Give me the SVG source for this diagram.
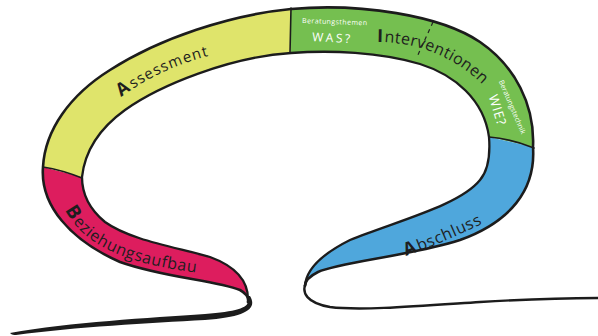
<svg xmlns="http://www.w3.org/2000/svg" width="598" height="336" viewBox="0 0 598 336">
<style>
.edge{fill:none;stroke:#1c1c1c;stroke-linejoin:round;stroke-linecap:round}
.lbl{font-family:"Open Sans","Liberation Sans",sans-serif;fill:#1e1e1e}
.big{font-weight:bold}
.wh{font-family:"Open Sans","Liberation Sans",sans-serif;fill:#ffffff}
</style>
<defs>
<path id="pA" d="M121,97 Q160,68 212,55"/>
<path id="pI" d="M377,42 C410,42 450,52 484,86"/>
<path id="pB" d="M65,210 C82,242 120,264 201,273"/>
<path id="pS" d="M406,256 Q440,244 484,223"/>
</defs>
<rect width="598" height="336" fill="#ffffff"/>
<g id="beziehungsaufbau">
<path d="M43,167 C40,205 70,240 120,262 C165,278 215,280 240,290 C247,294 249,298 248,302 C249,285 240,268 210,257 C175,247 130,240 105,222 C88,208 82,192 82,177 Z" fill="#dd1d5e"/>
<text class="lbl" font-size="16" letter-spacing="0.6"><textPath href="#pB"><tspan class="big" font-size="19">B</tspan><tspan dx="1">eziehungsaufbau</tspan></textPath></text>
</g>
<g id="assessment">
<path d="M43,167 C45,130 70,95 110,70 C160,38 230,15 291,9 L291,53 C230,57 160,85 125,110 C100,128 85,150 82,177 Z" fill="#dfe46b"/>
<text class="lbl" font-size="15" letter-spacing="1.1"><textPath href="#pA"><tspan class="big" font-size="18">A</tspan><tspan dx="1">ssessment</tspan></textPath></text>
</g>
<g id="interventionen">
<path d="M291,9 C360,3 440,15 480,42 C515,66 535,105 533,147 L489,137 C484,100 455,75 420,64 C380,52 330,50 291,53 Z" fill="#75bf50"/>
<text class="lbl" font-size="16" letter-spacing="0.3"><textPath href="#pI"><tspan class="big" font-size="18">I</tspan><tspan dx="1">nterventionen</tspan></textPath></text>
<text class="wh" x="302" y="23" font-size="7" textLength="65" transform="rotate(2 302 23)">Beratungsthemen</text>
<text class="wh" x="312" y="41" font-size="12" textLength="38" transform="rotate(3 312 41)">WAS?</text>
<text class="wh" font-size="7" text-anchor="middle" textLength="58" transform="translate(510 108) rotate(67)">Beratungstechnik</text>
<text class="wh" font-size="13" text-anchor="middle" textLength="31" transform="translate(493 111) rotate(73)">WIE?</text>
<path d="M433,22 L417,57" fill="none" stroke="#222" stroke-width="1.2" stroke-dasharray="4,4"/>
</g>
<g id="abschluss">
<path d="M533,147 C536,190 510,222 460,240 C410,256 340,262 318,272 C308,277 305,282 305,286 C306,270 320,255 350,240 C400,220 460,205 480,180 C490,168 490,150 489,137 Z" fill="#4fa7dc"/>
<text class="lbl" font-size="16" letter-spacing="0.7"><textPath href="#pS"><tspan class="big" font-size="18">A</tspan><tspan dx="1">bschluss</tspan></textPath></text>
</g>
<g id="connectors">
<path class="edge" stroke-width="2.6" d="M248,302 C249,298 247,294 240,290 C215,280 165,278 120,262 C70,240 40,205 43,167 C45,130 70,95 110,70 C160,38 230,15 291,9 C360,3 440,15 480,42 C515,66 535,105 533,147 C536,190 510,222 460,240 C410,256 340,262 318,272 C308,277 305,282 305,286"/>
<path class="edge" stroke-width="2.3" d="M248,302 C249,285 240,268 210,257 C175,247 130,240 105,222 C88,208 82,192 82,177 C85,150 100,128 125,110 C160,85 230,57 291,53 C330,50 380,52 420,64 C455,75 484,100 489,137 C490,150 490,168 480,180 C460,205 400,220 350,240 C320,255 306,270 305,286"/>
<path class="edge" stroke-width="1.6" d="M43,167 Q62,170 82,178"/>
<path class="edge" stroke-width="1.6" d="M291,8 L290,53"/>
<path class="edge" stroke-width="1.6" d="M489,137 Q512,139 534,148"/>
<path d="M246,296 C253,306 243,311 205,314 C150,318 70,322 10,333 C12,335 14,335 16,335 C75,327 150,323 205,320 C245,317 258,309 250,296 Z" fill="#1c1c1c"/>
<path class="edge" stroke-width="2.4" d="M306,282 C301,293 307,303 330,307 C360,311 420,306 480,302 C530,299 570,298 600,298"/>
</g>
</svg>
